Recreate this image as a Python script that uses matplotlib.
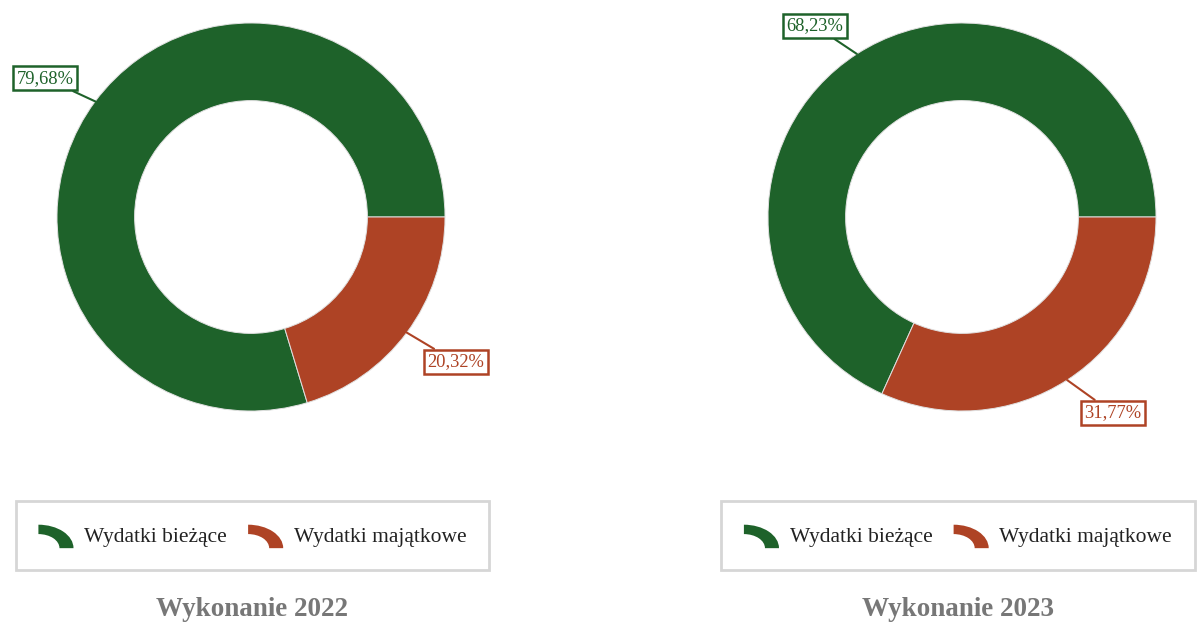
import numpy as np
import matplotlib
matplotlib.use("Agg")
import matplotlib.pyplot as plt
from matplotlib.patches import Wedge
from matplotlib.legend_handler import HandlerPatch
from matplotlib.transforms import Affine2D

plt.rcParams['font.family'] = ['Liberation Serif', 'DejaVu Serif']

categories = ["Wydatki bieżące", "Wydatki majątkowe"]
share_2022 = [79.68, 20.32]
share_2023 = [68.23, 31.77]
years = ["Wykonanie 2022", "Wykonanie 2023"]
labels_2022 = ["79,68%", "20,32%"]
labels_2023 = ["68,23%", "31,77%"]

colors = ["#1e622a", "#ae4325"]
W, H = 1203, 624


class HandlerArc(HandlerPatch):
    # quarter ring icon like the original legend
    def create_artists(self, legend, orig_handle, xdescent, ydescent,
                       width, height, fontsize, trans):
        w = Wedge((0, 0), 1.0, 0, 90, width=0.40,
                  facecolor=orig_handle.get_facecolor(), edgecolor="none")
        w.set_transform(Affine2D().scale(width, height)
                        .translate(-xdescent, -ydescent - height * 0.05) + trans)
        return [w]


fig = plt.figure(figsize=(12.03, 6.24), dpi=100)

panels = [
    (251, share_2022, labels_2022, years[0], [(-1.062, 0.716), (1.057, -0.747)], (11, 494)),
    (962, share_2023, labels_2023, years[1], [(-0.758, 0.985), (0.778, -1.01)], (720, 1196)),
]

for cx, vals, labs, title, boxpos, (lx0, lx1) in panels:
    cy, r = 217, 194
    ax = fig.add_axes([(cx - r) / W, (H - cy - r) / H, 2 * r / W, 2 * r / H])
    wedges, _ = ax.pie(vals, colors=colors, startangle=0, counterclock=True,
                       radius=1, wedgeprops=dict(width=0.4, edgecolor="#e0e0e0", linewidth=0.7))
    ax.set_xlim(-1, 1)
    ax.set_ylim(-1, 1)
    ax.axis("off")
    for wdg, lab, pos, col in zip(wedges, labs, boxpos, colors):
        mid = np.deg2rad((wdg.theta1 + wdg.theta2) / 2)
        ax.annotate(lab, xy=(np.cos(mid), np.sin(mid)), xytext=pos,
                    ha="center", va="center", fontsize=13.3, color=col,
                    bbox=dict(boxstyle="square,pad=0.2", fc="white", ec=col, lw=1.8),
                    arrowprops=dict(arrowstyle="-", color=col, lw=1.5,
                                    shrinkA=0, shrinkB=0),
                    annotation_clip=False)

    leg = fig.legend(wedges, categories, loc="center",
                     bbox_to_anchor=((lx0 + lx1) / 2 / W, 1 - 535.5 / H),
                     ncol=2, fontsize=15.5, frameon=True, fancybox=False,
                     handler_map={Wedge: HandlerArc()},
                     handlelength=1.63, handleheight=1.3, handletextpad=0.5,
                     columnspacing=0.98, borderpad=1.05, borderaxespad=0)
    leg.get_frame().set_edgecolor("#cccccc")
    leg.get_frame().set_linewidth(2)
    for t in leg.get_texts():
        t.set_color("#222222")

    fig.text((lx0 + lx1) / 2 / W, 1 - 610 / H, title, ha="center", va="center",
             fontsize=19.5, fontweight="bold", color="#777777")

fig.savefig("out.png", dpi=100, facecolor="white")
